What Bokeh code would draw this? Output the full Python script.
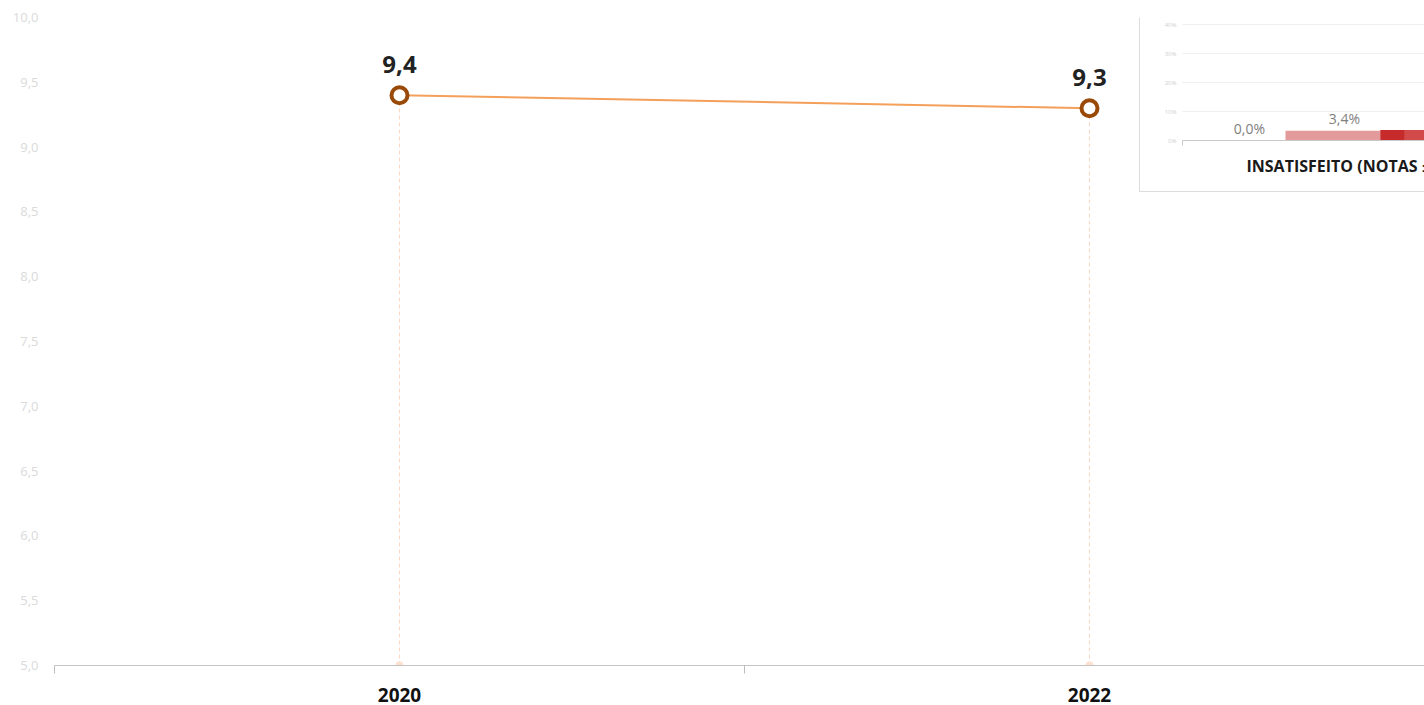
from bokeh.plotting import figure
from bokeh.models import Range1d, FixedTicker, ColumnDataSource
from bokeh.core.properties import value
from bokeh.embed import file_html
from bokeh.resources import INLINE

# ---------------- data ----------------
anos = ["2020", "2022"]
notas = [9.4, 9.3]
y_ticks = [5.0, 5.5, 6.0, 6.5, 7.0, 7.5, 8.0, 8.5, 9.0, 9.5, 10.0]

inset_categoria = "INSATISFEITO (NOTAS \u2264 6)"
inset_valores = [0.0, 3.4, 3.6]
inset_cores = ["#e39a9a", "#e39a9a", "#d34a4a"]
inset_ticks = [0, 10, 20, 30, 40]

FONT = "Open Sans"

# ---------------- layout ----------------
W, H = 1424, 705
BL, BT, BB = 54, 17, 40
frame_w = W - BL
frame_h = H - BT - BB
cat_px = 690.0  # pixels per category

p = figure(width=W, height=H, output_backend="svg", toolbar_location=None,
           x_range=Range1d(0, frame_w / cat_px), y_range=Range1d(5.0, 10.0),
           min_border_left=BL, min_border_right=0, min_border_top=BT,
           min_border_bottom=BB)
p.outline_line_color = None
p.xgrid.visible = False
p.ygrid.visible = False
p.background_fill_color = "white"

# inset coordinate system (pixel anchors of reference)
frame_left_page = BL
frame_top_page = BT
frame_right_page = frame_left_page + frame_w
frame_bottom_page = frame_top_page + frame_h
bar_px = 95.0
bar0_page = 1190.0
zero_page = 140.0
pct_px = 2.9  # px per percent
p.extra_x_ranges = {"ix": Range1d((frame_left_page - bar0_page) / bar_px,
                                  (frame_right_page - bar0_page) / bar_px)}
p.extra_y_ranges = {"pct": Range1d((zero_page - frame_bottom_page) / pct_px,
                                   (zero_page - frame_top_page) / pct_px)}

# ---------------- main chart ----------------
xs = [i + 0.5 for i in range(len(anos))]
src = ColumnDataSource(dict(x=xs, y=notas, base=[y_ticks[0]] * len(xs),
                            lab=[f"{v:.1f}".replace(".", ",") for v in notas]))

p.segment(x0="x", y0="base", x1="x", y1="y", source=src,
          line_color="#fcd8c4", line_width=1, line_dash="4 3")
p.scatter(x="x", y="base", source=src, size=8, marker="circle",
          fill_color="#fde0cf", line_color=None)
p.line(x="x", y="y", source=src, line_color="#f4a05a", line_width=2)
p.scatter(x="x", y="y", source=src, size=16, marker="circle",
          fill_color="white", line_color="#9a4a08", line_width=4)
p.text(x="x", y="y", text="lab", source=src, text_align="center",
       text_baseline="bottom", y_offset=-22, text_font=value(FONT),
       text_font_size="24px", text_font_style="bold", text_color="#222222")

# axes
xa = p.xaxis[0]
xa.ticker = FixedTicker(ticks=xs, minor_ticks=list(range(len(anos) + 1)))
xa.major_label_overrides = {x: a for x, a in zip(xs, anos)}
xa.axis_line_color = "#c4c4c4"
xa.major_tick_line_color = None
xa.major_tick_out = 0
xa.major_tick_in = 0
xa.minor_tick_line_color = "#bdbdbd"
xa.minor_tick_out = 8
xa.minor_tick_in = 0
xa.major_label_standoff = 14
xa.major_label_text_font = FONT
xa.major_label_text_font_size = "19px"
xa.major_label_text_font_style = "bold"
xa.major_label_text_color = "#111111"

ya = p.yaxis[0]
ya.ticker = FixedTicker(ticks=y_ticks)
ya.major_label_overrides = {t: f"{t:.1f}".replace(".", ",") for t in y_ticks}
ya.axis_line_color = None
ya.major_tick_line_color = None
ya.minor_tick_line_color = None
ya.major_tick_out = 0
ya.major_label_standoff = 16
ya.major_label_text_font = FONT
ya.major_label_text_font_size = "13px"
ya.major_label_text_color = "#dadada"

# ---------------- inset panel ----------------
box_left = (1139 - bar0_page) / bar_px
box_bottom = (zero_page - 191) / pct_px
axis_left = (1182 - bar0_page) / bar_px
far_r = 50
p.quad(left=[box_left], right=[far_r], bottom=[box_bottom], top=[500],
       x_range_name="ix", y_range_name="pct",
       fill_color="white", line_color="#dcdcdc", line_width=1)

grid_src = ColumnDataSource(dict(y=inset_ticks[1:], x0=[axis_left] * (len(inset_ticks) - 1),
                                 x1=[far_r] * (len(inset_ticks) - 1)))
p.segment(x0="x0", y0="y", x1="x1", y1="y", source=grid_src,
          x_range_name="ix", y_range_name="pct", line_color="#f0f0f0", line_width=1)

tick_src = ColumnDataSource(dict(y=inset_ticks, x=[(1176 - bar0_page) / bar_px] * len(inset_ticks),
                                 t=[f"{t}%" for t in inset_ticks]))
p.text(x="x", y="y", text="t", source=tick_src, x_range_name="ix", y_range_name="pct",
       text_align="right", text_baseline="middle", text_font=value(FONT),
       text_font_size="6px", text_color="#d0d0d0")

# bars
n = len(inset_valores)
bar_src = ColumnDataSource(dict(
    left=list(range(n)), right=[i + 1 for i in range(n)],
    top=inset_valores, bottom=[0] * n, color=inset_cores,
    xl=[i + 0.62 for i in range(n)],
    lab=[f"{v:.1f}".replace(".", ",") + "%" for v in inset_valores]))
p.quad(left="left", right="right", bottom="bottom", top="top", source=bar_src,
       x_range_name="ix", y_range_name="pct", fill_color="color", line_color=None)
# darker leading part of third bar
p.quad(left=[n - 1], right=[n - 1 + 0.25], bottom=[0], top=[inset_valores[-1]],
       x_range_name="ix", y_range_name="pct", fill_color="#c62a2a", line_color=None)
p.text(x="xl", y="top", text="lab", source=bar_src, x_range_name="ix", y_range_name="pct",
       text_align="center", text_baseline="bottom", y_offset=-3, text_font=value(FONT),
       text_font_size="14px", text_color="#808080")

# inset axis line + tick
p.segment(x0=[axis_left], y0=[0], x1=[far_r], y1=[0], x_range_name="ix", y_range_name="pct",
          line_color="#c8c8c8", line_width=1)
p.segment(x0=[axis_left], y0=[0], x1=[axis_left], y1=[-5 / pct_px], x_range_name="ix",
          y_range_name="pct", line_color="#c8c8c8", line_width=1)

p.text(x=[(1246 - bar0_page) / bar_px], y=[(zero_page - 165) / pct_px], text=[inset_categoria],
       x_range_name="ix", y_range_name="pct", text_align="left",
       text_baseline="middle", text_font=value(FONT), text_font_size="16px",
       text_font_style="bold", text_color="#1a1a1a")

open("out.html", "w").write(file_html(p, INLINE))
